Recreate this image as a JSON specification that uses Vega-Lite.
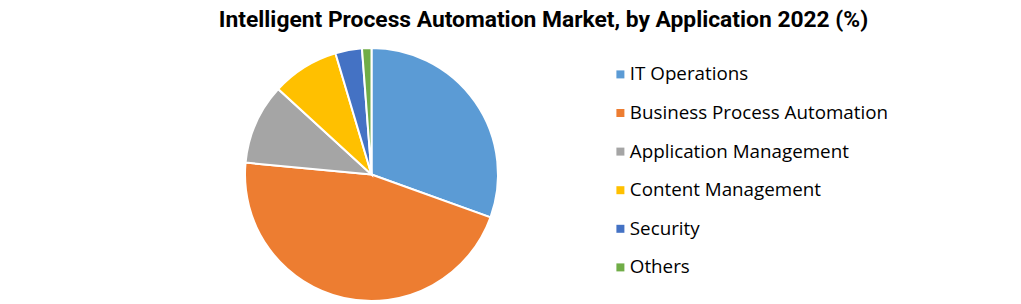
{
  "$schema": "https://vega.github.io/schema/vega-lite/v6.json",
  "width": 253,
  "height": 253,
  "autosize": {"type": "none"},
  "padding": {"left": 245, "top": 48, "right": 523, "bottom": 3},
  "background": "white",
  "title": {
    "text": "Intelligent Process Automation Market, by Application 2022 (%)",
    "font": "Liberation Sans Narrow, Roboto, Liberation Sans",
    "fontSize": 22.8,
    "fontWeight": "bold",
    "color": "black",
    "anchor": "middle",
    "dx": 172,
    "offset": 12
  },
  "data": {
    "values": [
      {"application": "IT Operations", "share": 30.5, "order": 1},
      {"application": "Business Process Automation", "share": 46.0, "order": 2},
      {"application": "Application Management", "share": 10.3, "order": 3},
      {"application": "Content Management", "share": 8.6, "order": 4},
      {"application": "Security", "share": 3.4, "order": 5},
      {"application": "Others", "share": 1.2, "order": 6}
    ]
  },
  "mark": {"type": "arc", "stroke": "white", "strokeWidth": 2},
  "encoding": {
    "theta": {"field": "share", "type": "quantitative", "stack": true},
    "order": {"field": "order", "type": "quantitative", "sort": "ascending"},
    "color": {
      "field": "application",
      "type": "nominal",
      "scale": {
        "domain": ["IT Operations", "Business Process Automation", "Application Management", "Content Management", "Security", "Others"],
        "range": ["#5B9BD5", "#ED7D31", "#A5A5A5", "#FFC000", "#4472C4", "#70AD47"]
      },
      "legend": {
        "title": null,
        "orient": "none",
        "legendX": 366,
        "legendY": 17,
        "symbolType": "square",
        "symbolSize": 64,
        "symbolStrokeWidth": 0,
        "labelFont": "Open Sans",
        "labelFontSize": 18.8,
        "labelColor": "black",
        "labelOffset": 0,
        "rowPadding": 18.6,
        "labelLimit": 400
      }
    }
  },
  "config": {"view": {"stroke": null}}
}
